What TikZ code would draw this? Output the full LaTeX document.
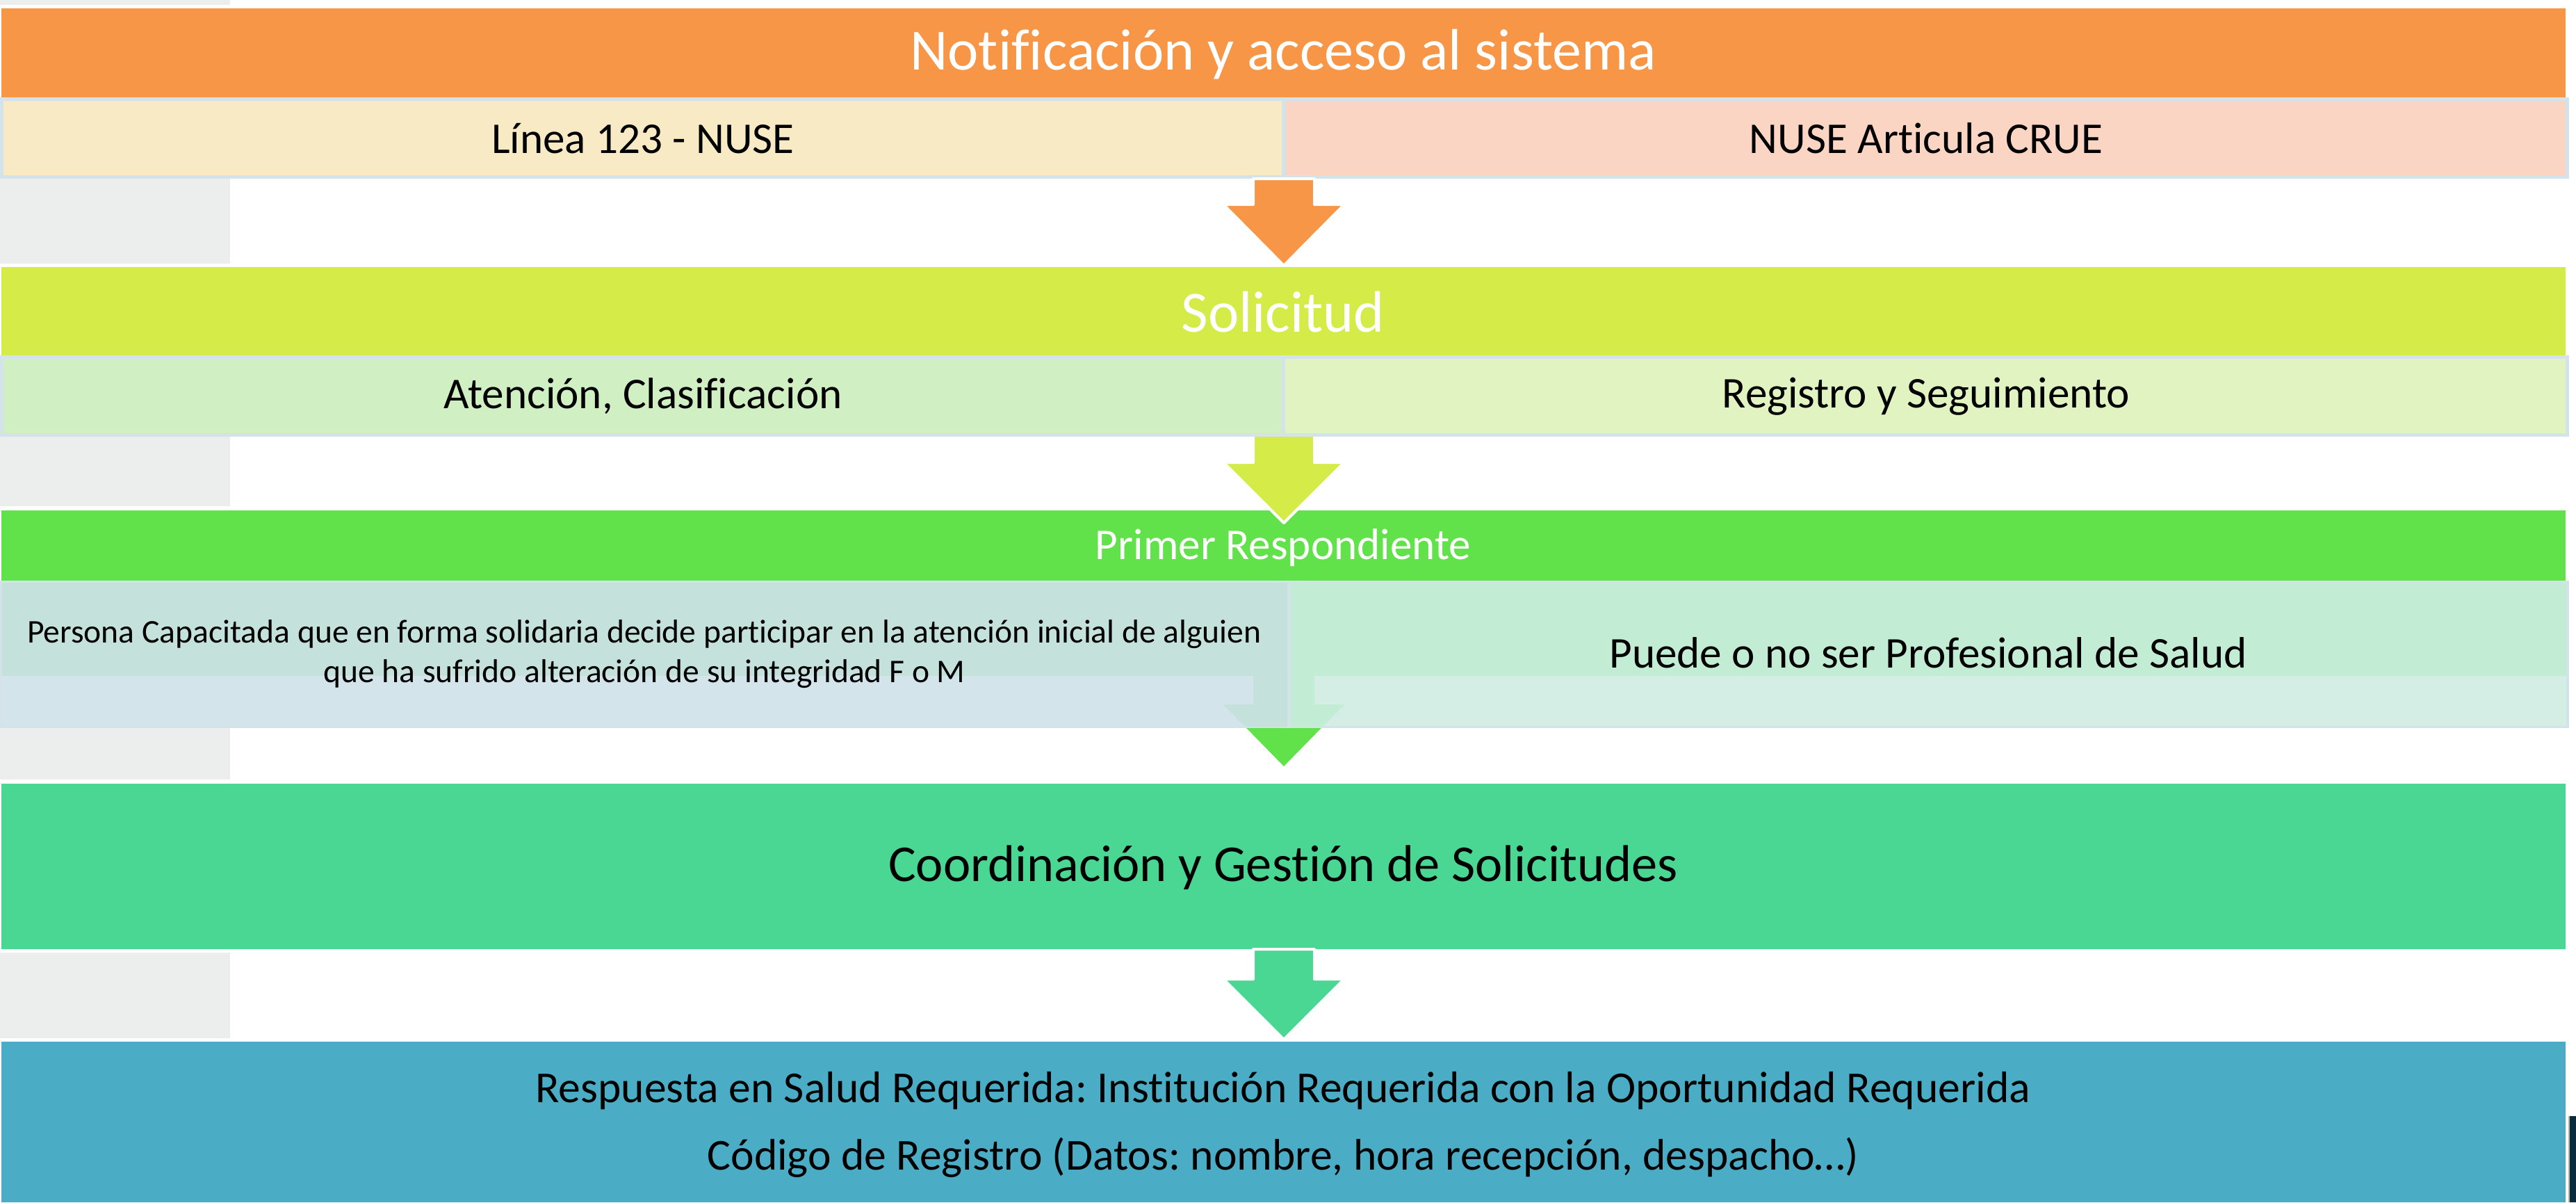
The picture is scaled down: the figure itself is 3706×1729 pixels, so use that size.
\documentclass[tikz,border=0pt]{standalone}
\usepackage{fontspec}
\setmainfont{Carlito}[Ligatures=NoCommon]
\frenchspacing
\definecolor{orangeC}{HTML}{F79646}
\definecolor{yelC}{HTML}{F7EAC5}
\definecolor{peachC}{HTML}{FAD5C3}
\definecolor{bordC}{HTML}{D4E3E9}
\definecolor{sideC}{HTML}{ECEEED}
\definecolor{solC}{HTML}{D5EB48}
\definecolor{atenC}{HTML}{D0F0C3}
\definecolor{regC}{HTML}{E0F3C1}
\definecolor{primC}{HTML}{62E24A}
\definecolor{pulC}{HTML}{C5E1DB}
\definecolor{purC}{HTML}{C3ECD5}
\definecolor{pllC}{HTML}{D3E4EA}
\definecolor{plrC}{HTML}{D5EEE5}
\definecolor{coordC}{HTML}{4AD693}
\definecolor{blueC}{HTML}{4BACC6}
\definecolor{darkC}{HTML}{0B2A3C}
\newcommand{\flechapath}[3]{(1803,#1) -- (1891,#1) -- (1891,#2) -- (1934,#2) -- (1847,#3) -- (1760,#2) -- (1803,#2) -- cycle}
\begin{document}
\begin{tikzpicture}[x=0.25pt,y=-0.25pt,
  big/.style={inner sep=0pt, text=white, font=\fontsize{21}{25}\selectfont},
  mid/.style={inner sep=0pt, text=black, font=\fontsize{15.8}{19}\selectfont},
  midw/.style={inner sep=0pt, text=white, font=\fontsize{15.8}{19}\selectfont},
  small/.style={inner sep=0pt, text=black, align=center, font=\fontsize{11.9}{14.25}\selectfont},
  coordf/.style={inner sep=0pt, text=black, font=\fontsize{18.6}{22}\selectfont},
  bluef/.style={inner sep=0pt, text=black, align=center, font=\fontsize{15.9}{24.25}\selectfont},
  flecha/.style={draw=white, line width=1pt, line join=round}]
\useasboundingbox (0,0) rectangle (3706,1729);
\fill[white] (0,0) rectangle (3706,1729);
% side strips
\fill[sideC] (0,0) rectangle (331,7);
\fill[sideC] (0,257) rectangle (331,379);
\fill[sideC] (0,628) rectangle (331,728);
\fill[sideC] (0,1047) rectangle (331,1121);
\fill[sideC] (0,1370) rectangle (331,1493);
% Row 1
\fill[orangeC] (2,12) rectangle (3691,140);
\node[big] (notif) at (1846,78) {Notificación y acceso al sistema};
% Row 2
\fill[bordC] (0,140) rectangle (3696,257);
\fill[yelC] (5,145) rectangle (1844,252);
\fill[peachC] (1850,145) rectangle (3691,252);
\node[mid] (linea) at (925,199) {Línea 123 - NUSE};
\node[mid] (nuse) at (2771,199) {NUSE Articula CRUE};
% Row 3
\fill[solC] (2,384) rectangle (3691,511);
\node[big] (solic) at (1846,449) {Solicitud};
% Row 5 (drawn before arrow 2)
\fill[primC] (2,734) rectangle (3691,835);
\node[midw] (primer) at (1846,788) {Primer Respondiente};
\fill[solC, flecha] \flechapath{622}{665}{752};
% Row 4
\fill[bordC] (0,511) rectangle (3696,628);
\fill[atenC] (5,516) rectangle (1844,623);
\fill[regC] (1849,516) rectangle (3691,623);
\node[mid] (aten) at (925,570) {Atención, Clasificación};
\node[mid] (regis) at (2771,570) {Registro y Seguimiento};
% Row 6
\fill[primC] \flechapath{840}{1013}{1102};
\fill[bordC] (0,835) rectangle (3696,1047);
\fill[pulC] (3,838) rectangle (1852,972);
\fill[purC] (1857,838) rectangle (3692,972);
\fill[pllC] (3,972) rectangle (1852,1044);
\fill[plrC] (1857,972) rectangle (3692,1044);
\begin{scope}
  \clip (3,972) rectangle (1852,1044);
  \fill[pulC] \flechapath{900}{1013}{1102};
\end{scope}
\begin{scope}
  \clip (1857,972) rectangle (3692,1044);
  \fill[purC] \flechapath{900}{1013}{1102};
\end{scope}
\node[small] (persona) at (927,941) {Persona Capacitada que en forma solidaria decide participar en la atención inicial de alguien\\que ha sufrido alteración de su integridad F o M};
\node[mid] (puede) at (2774,939) {Puede o no ser Profesional de Salud};
% Row 7
\fill[coordC] (2,1127) rectangle (3691,1365);
\node[coordf] (coord) at (1846,1248) {Coordinación y Gestión de Solicitudes};
% Row 8
\fill[blueC] (2,1498) rectangle (3691,1729);
\node[bluef] (resp) at (1846,1617) {Respuesta en Salud Requerida: Institución Requerida con la Oportunidad Requerida\\Código de Registro (Datos: nombre, hora recepción, despacho…)};
\fill[coordC, flecha] \flechapath{1365}{1408}{1495};
\fill[orangeC, flecha] \flechapath{257}{294}{382};
% right edge mark
\fill[gray!60] (3695,1605) rectangle (3697,1729);
\fill[darkC] (3697,1605) rectangle (3706,1729);
\end{tikzpicture}
\end{document}
